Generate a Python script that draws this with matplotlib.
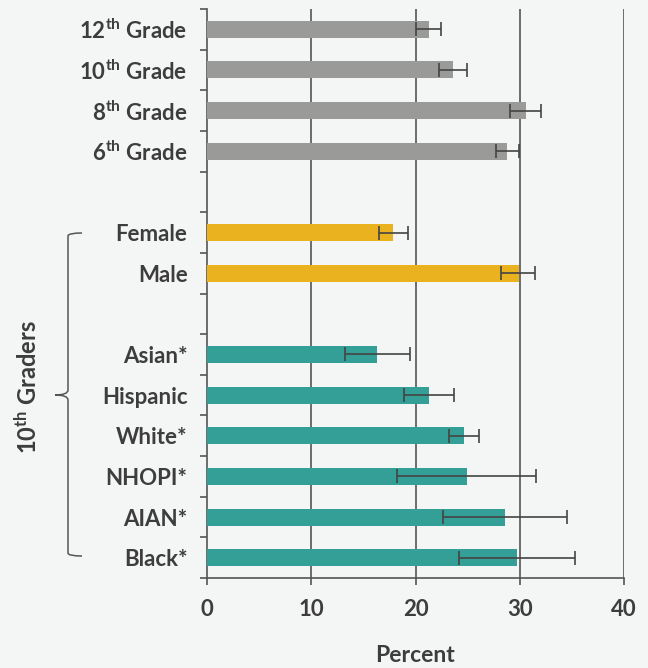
import numpy as np
import matplotlib
matplotlib.use('Agg')
import matplotlib.pyplot as plt
from matplotlib.path import Path
from matplotlib.patches import PathPatch

# ---------------------------------------------------------------- data
grade_labels = ['12$^{th}$ Grade', '10$^{th}$ Grade', '8$^{th}$ Grade', '6$^{th}$ Grade']
grade_vals   = [21.3, 23.6, 30.6, 28.8]
grade_lo     = [20.0, 22.3, 29.1, 27.7]
grade_hi     = [22.4, 24.9, 32.0, 29.9]

sex_labels = ['Female', 'Male']
sex_vals   = [17.8, 29.9]
sex_lo     = [16.5, 28.2]
sex_hi     = [19.3, 31.5]

race_labels = ['Asian*', 'Hispanic', 'White*', 'NHOPI*', 'AIAN*', 'Black*']
race_vals   = [16.3, 21.3, 24.7, 24.9, 28.6, 29.7]
race_lo     = [13.2, 18.9, 23.2, 18.2, 22.6, 24.2]
race_hi     = [19.5, 23.7, 26.1, 31.6, 34.5, 35.3]

xticks = [0, 10, 20, 30, 40]

# ---------------------------------------------------------------- style
BG    = '#f4f6f5'
TXT   = '#3d3d3d'
GRAY  = '#9a9a98'
GOLD  = '#ebb220'
TEAL  = '#349f97'
ERR   = '#444444'
LINE  = '#555555'
FS    = 16

plt.rcParams['font.family'] = ['Lato', 'DejaVu Sans']
plt.rcParams['font.weight'] = 'bold'
plt.rcParams['mathtext.fontset'] = 'custom'
plt.rcParams['mathtext.rm'] = 'Lato:bold'
plt.rcParams['mathtext.it'] = 'Lato:bold'
plt.rcParams['mathtext.default'] = 'regular'

fig = plt.figure(figsize=(6.48, 6.68), dpi=100, facecolor=BG)
ax = fig.add_axes([207/648, 1 - 578/668, (624-207)/648, (578-9)/668], facecolor=BG)

groups = [
    (grade_labels, grade_vals, grade_lo, grade_hi, GRAY, 0),
    (sex_labels,   sex_vals,   sex_lo,   sex_hi,   GOLD, 5),
    (race_labels,  race_vals,  race_lo,  race_hi,  TEAL, 8),
]

ypos, ylabs = [], []
for labels, vals, lo, hi, col, start in groups:
    y = np.arange(start, start + len(vals))
    vals = np.array(vals); lo = np.array(lo); hi = np.array(hi)
    ax.barh(y, vals, height=0.42, color=col, zorder=3)
    ax.errorbar(vals, y, xerr=[vals - lo, hi - vals], fmt='none',
                ecolor=ERR, elinewidth=1.2, capsize=5, capthick=1.2, zorder=4)
    ypos += list(y)
    ylabs += labels

ax.set_ylim(13.5, -0.5)
ax.set_xlim(0, 40)
ax.set_yticks(ypos)
ax.set_yticklabels(ylabs, fontsize=FS, color=TXT, fontweight='bold')
ax.set_yticks(np.arange(-0.5, 14, 1), minor=True)
ax.tick_params(axis='y', which='major', length=0, pad=14)
ax.tick_params(axis='y', which='minor', length=5, width=1.2, color=LINE, direction='out')
ax.set_xticks(xticks)
ax.set_xticklabels([str(t) for t in xticks], fontsize=FS, color=TXT, fontweight='bold')
ax.tick_params(axis='x', length=5, width=1.2, color=LINE, pad=10)

for t in xticks[1:]:
    ax.axvline(t, color=LINE, lw=1.2, zorder=1)

for s in ['top', 'right']:
    ax.spines[s].set_visible(False)
for s in ['left', 'bottom']:
    ax.spines[s].set_color(LINE)
    ax.spines[s].set_linewidth(1.2)

# brace for 10th graders
def fx(px): return px / 648
def fy(py): return 1 - py / 668

fig.text(fx(415), fy(656), 'Percent', ha='center', va='center',
         fontsize=16.5, color=TXT, fontweight='bold')

verts = [(fx(82), fy(233)), (fx(68), fy(233)), (fx(68), fy(236)),
         (fx(68), fy(390)), (fx(68), fy(395)), (fx(55), fy(395)),
         (fx(68), fy(395)), (fx(68), fy(400)),
         (fx(68), fy(553)), (fx(68), fy(556)), (fx(82), fy(556))]
codes = [Path.MOVETO, Path.CURVE3, Path.CURVE3,
         Path.LINETO, Path.CURVE3, Path.CURVE3,
         Path.CURVE3, Path.CURVE3,
         Path.LINETO, Path.CURVE3, Path.CURVE3]
fig.patches.append(PathPatch(Path(verts, codes), transform=fig.transFigure,
                             fill=False, edgecolor=LINE, lw=1.1))

fig.text(fx(28), fy(387), '10$^{th}$ Graders', rotation=90, ha='center', va='center',
         fontsize=17, color=TXT, fontweight='bold')

fig.savefig('out.png', dpi=100, facecolor=BG)
